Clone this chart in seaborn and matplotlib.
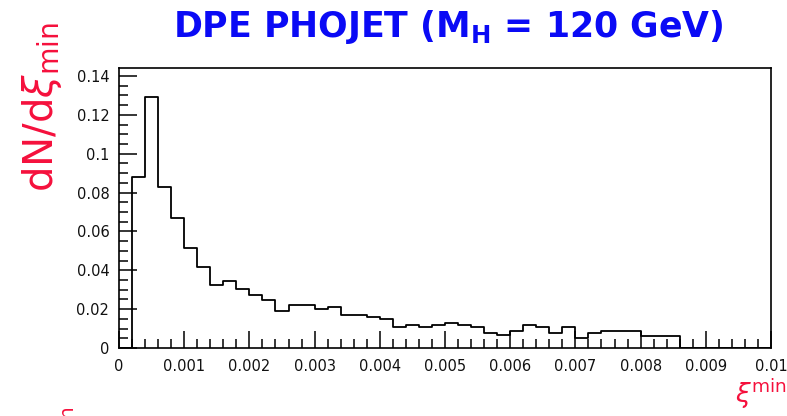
import numpy as np
import pandas as pd
import matplotlib
matplotlib.use("Agg")
import matplotlib.pyplot as plt
import seaborn as sns
from matplotlib.ticker import FixedLocator, FixedFormatter, MultipleLocator

# ---- data ----
bin_edges = [round(i * 0.0002, 4) for i in range(51)]
bin_values = [
    0.0, 0.088, 0.129, 0.083, 0.067, 0.0513, 0.0415, 0.0324, 0.0345, 0.0304,
    0.0271, 0.0247, 0.0192, 0.0221, 0.0221, 0.0199, 0.0213, 0.0168, 0.0168, 0.0161,
    0.0149, 0.0110, 0.0118, 0.0110, 0.0118, 0.0130, 0.0118, 0.0110, 0.0079, 0.0067,
    0.0087, 0.0118, 0.0110, 0.0079, 0.0110, 0.0053, 0.0079, 0.0087, 0.0087, 0.0087,
    0.0062, 0.0062, 0.0062, 0.0, 0.0, 0.0, 0.0, 0.0, 0.0, 0.0,
]
x_ticks = [0, 0.001, 0.002, 0.003, 0.004, 0.005, 0.006, 0.007, 0.008, 0.009, 0.01]
x_tick_labels = ["0", "0.001", "0.002", "0.003", "0.004", "0.005", "0.006",
                 "0.007", "0.008", "0.009", "0.01"]
y_ticks = [0, 0.02, 0.04, 0.06, 0.08, 0.1, 0.12, 0.14]
y_tick_labels = ["0", "0.02", "0.04", "0.06", "0.08", "0.1", "0.12", "0.14"]

title_text = r"DPE PHOJET (M$_\mathregular{H}$ = 120 GeV)"
ylabel_text = r"dN/d$\xi_\mathregular{min}$"
xlabel_text = r"$\xi^\mathregular{min}$"

centers = [(bin_edges[i] + bin_edges[i + 1]) / 2 for i in range(len(bin_values))]
df = pd.DataFrame({"xi": centers, "w": bin_values})

sns.set_style("white")
plt.rcParams["font.family"] = ["DejaVu Sans"]
plt.rcParams["mathtext.fontset"] = "dejavusans"

W, H = 787, 416
fig = plt.figure(figsize=(W / 100, H / 100), dpi=100)
ax = fig.add_axes([119 / W, 1 - 348 / H, (771 - 119) / W, (348 - 68) / H])

sns.histplot(data=df, x="xi", weights="w", bins=bin_edges, element="step",
             fill=False, color="black", linewidth=1.3, ax=ax)

ax.set_xlim(0, 0.01)
ax.set_ylim(0, 0.1441)
ax.xaxis.set_major_locator(FixedLocator(x_ticks))
ax.xaxis.set_major_formatter(FixedFormatter(x_tick_labels))
ax.yaxis.set_major_locator(FixedLocator(y_ticks))
ax.yaxis.set_major_formatter(FixedFormatter(y_tick_labels))
ax.xaxis.set_minor_locator(MultipleLocator(0.0002))
ax.yaxis.set_minor_locator(MultipleLocator(0.005))
ax.tick_params(which="both", direction="in", top=False, right=False,
               bottom=True, left=True,
               color="black", width=1.1, labelsize=10.5, labelcolor="#111111")
ax.tick_params(which="major", length=12, pad=7)
ax.tick_params(which="minor", length=6.5)
ax.tick_params(axis="y", which="major", length=13)
ax.tick_params(axis="x", which="major", pad=8)
for s in ax.spines.values():
    s.set_color("black")
    s.set_linewidth(1.2)
ax.set_xlabel("")
ax.set_ylabel("")

fig.text(448 / W, 1 - 37 / H, title_text, ha="center", va="baseline",
         color="#0a0af5", fontsize=25, fontweight="bold",
         family=["DejaVu Sans"])
fig.text(42 / W, 1 - 107 / H, ylabel_text, ha="center", va="center",
         rotation=90, color="#f5103c", fontsize=29, family=["DejaVu Sans"])
fig.text(735 / W, 1 - 403 / H, xlabel_text, ha="left", va="baseline",
         color="#f5103c", fontsize=19, family=["DejaVu Sans"])
fig.text(67 / W, 1 - 404 / H, "min", ha="center", va="top", rotation=90,
         color="#f5103c", fontsize=14, family=["DejaVu Sans"])

fig.savefig("out.png", dpi=100)
